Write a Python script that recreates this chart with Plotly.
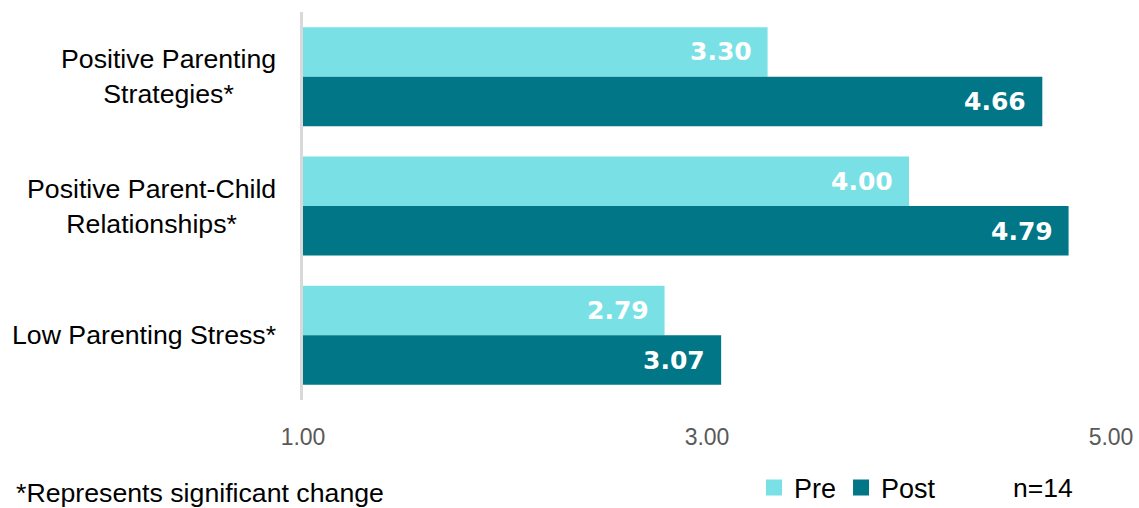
import plotly.graph_objects as go

categories = ["Positive Parenting<br>Strategies*", "Positive Parent-Child<br>Relationships*", "Low Parenting Stress*"]
pre_values = [3.30, 4.00, 2.79]
post_values = [4.66, 4.79, 3.07]
x_ticks = [1, 3, 5]
x_tick_labels = ["1.00", "3.00", "5.00"]
series_names = ["Pre", "Post"]
colors = ["#79E1E6", "#007687"]

OFF = 0  # body margin removed via post_script
W, H = 1139 - OFF, 508 - OFF
L, T = 303 - OFF, 12 - OFF
R = W - (1111 - OFF)
B = H - (400 - OFF)
pw, ph = W - L - R, H - T - B


def px_x(X):
    return (X - OFF - L) / pw


def px_y(Y):
    return 1 - (Y - OFF - T) / ph


fig = go.Figure()
for name, vals, col in zip(series_names, [pre_values, post_values], colors):
    fig.add_trace(go.Bar(
        y=categories, x=[v - 1 for v in vals], base=1, orientation="h",
        name=name, marker=dict(color=col, line=dict(width=0)),
        showlegend=False, hoverinfo="skip"))

# legend proxies (square swatches)
for name, col in zip(series_names, colors):
    fig.add_trace(go.Scatter(
        x=[None], y=[None], mode="markers", name=name,
        marker=dict(symbol="square", size=17, color=col), showlegend=True))

annotations = []
for idx, vals in enumerate([pre_values, post_values]):
    for cat, v in zip(categories, vals):
        annotations.append(dict(
            x=v, y=cat, xref="x", yref="y", text=f"{v:.2f}", showarrow=False,
            xanchor="right", yanchor="middle", xshift=-14,
            yshift=(25 if idx == 0 else -25),
            font=dict(family="DejaVu Sans", size=25, color="white", weight="bold")))
for cat in categories:
    annotations.append(dict(
        x=px_x(278), y=cat, xref="paper", yref="y", text=cat, showarrow=False,
        xanchor="right", yanchor="middle", align="center",
        font=dict(family="Liberation Sans, Arial", size=26.7, color="#000000")))
annotations.append(dict(
    x=px_x(14), y=px_y(493), xref="paper", yref="paper",
    text="*Represents significant change", showarrow=False, xanchor="left", yanchor="middle",
    font=dict(family="Liberation Sans, Arial", size=26.7, color="#000000")))
annotations.append(dict(
    x=px_x(1011), y=px_y(488), xref="paper", yref="paper",
    text="n=14", showarrow=False, xanchor="left", yanchor="middle",
    font=dict(family="Liberation Sans, Arial", size=26.5, color="#000000")))

fig.update_layout(
    width=W, height=H,
    margin=dict(l=L, r=R, t=T, b=B, pad=0, autoexpand=False),
    plot_bgcolor="white", paper_bgcolor="white",
    barmode="group", bargap=0.234, bargroupgap=0,
    xaxis=dict(range=[1, 5], tickvals=x_ticks, ticktext=x_tick_labels,
               showgrid=False, zeroline=False, showline=False,
               tickfont=dict(family="Liberation Sans, Arial", size=23, color="#595959"),
               ticks="", ticklabelstandoff=21),
    yaxis=dict(autorange="reversed", showticklabels=False, showgrid=False, zeroline=False,
               showline=True, linecolor="#D9D9D9", linewidth=3, ticks=""),
    legend=dict(orientation="h", xref="container", yref="container",
                x=(754 - OFF) / W, xanchor="left",
                y=1 - (488 - OFF) / H, yanchor="middle",
                font=dict(family="Liberation Sans, Arial", size=27, color="#000000"),
                bgcolor="rgba(0,0,0,0)", itemclick=False),
    annotations=annotations,
)

fig.write_html("out.html", config={"displayModeBar": False},
               post_script="document.body.style.margin='0';document.body.style.overflow='hidden';")
